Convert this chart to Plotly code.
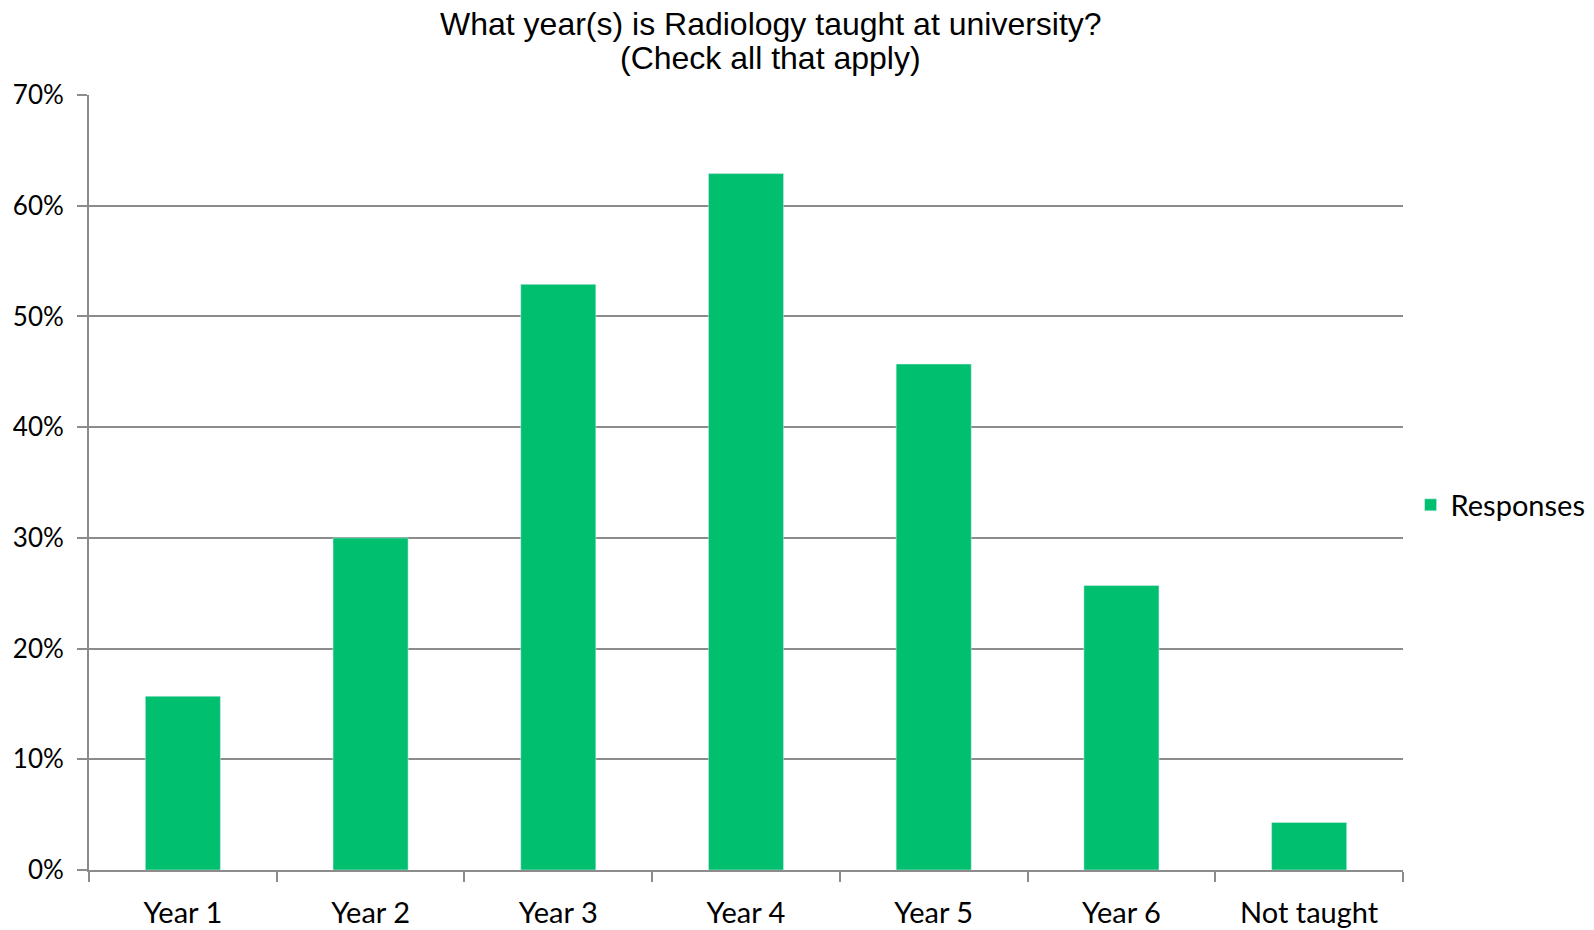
import plotly.graph_objects as go

categories = ["Year 1", "Year 2", "Year 3", "Year 4", "Year 5", "Year 6", "Not taught"]
responses = [0.157, 0.300, 0.529, 0.629, 0.457, 0.257, 0.043]
y_ticks = [0, 0.1, 0.2, 0.3, 0.4, 0.5, 0.6, 0.7]
title_lines = ["What year(s) is Radiology taught at university?", "(Check all that apply)"]

grey = "#8c8c8c"
tick_font = dict(family="Lato, Carlito, Calibri", size=29, color="black")

fig = go.Figure()
fig.add_trace(go.Bar(x=categories, y=responses, name="Responses",
                     marker_color="#00BF6F", width=0.4))

# two title lines placed separately so the spacing matches the original
for line, ypos in zip(title_lines, [1.0916, 1.0478]):
    fig.add_annotation(text=line, xref="paper", yref="paper", x=0.519, y=ypos,
                       xanchor="center", yanchor="middle", showarrow=False,
                       font=dict(family="Liberation Sans, Arial", size=32, color="black"))

# page body adds 8px offset, margins compensate for it
fig.update_layout(
    width=1594, height=930,
    plot_bgcolor="white", paper_bgcolor="white",
    margin=dict(l=81, r=198, t=87, b=68),
    showlegend=True,
    legend=dict(x=1.005, xanchor="left", y=0.471, yanchor="middle", font=tick_font),
    font=tick_font,
)
fig.update_xaxes(showline=True, linecolor=grey, linewidth=2, ticks="outside",
                 tickson="boundaries", ticklen=10, tickcolor=grey, tickwidth=2,
                 showgrid=False, ticklabelstandoff=16, automargin=False)
fig.update_yaxes(range=[0, 0.7], tickvals=y_ticks, tickformat=".0%",
                 showline=True, linecolor=grey, linewidth=2, ticks="outside",
                 ticklen=10, tickcolor=grey, tickwidth=2,
                 showgrid=True, gridcolor=grey, gridwidth=2, zeroline=False,
                 ticklabelstandoff=8, automargin=False,
                 tickfont=dict(family="Lato, Carlito, Calibri", size=26, color="black"))

fig.write_html("out.html")
